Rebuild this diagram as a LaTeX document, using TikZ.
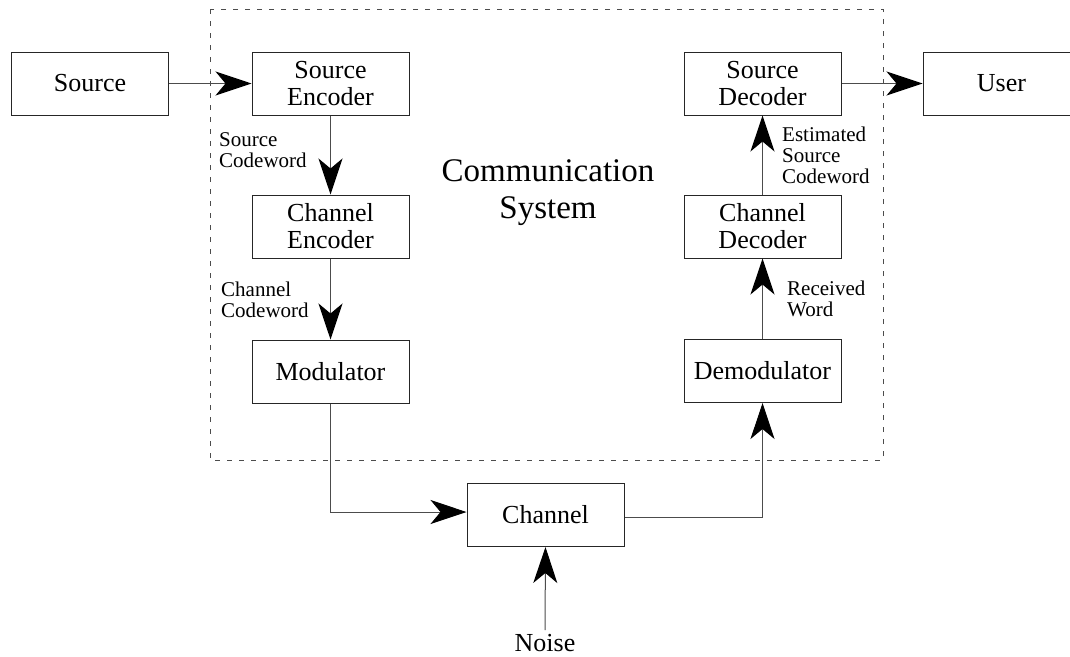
\documentclass[tikz,border=0pt]{standalone}
\usepackage{fontspec}
\setmainfont{Liberation Serif}
\usetikzlibrary{arrows.meta}
\begin{document}
\begin{tikzpicture}[x=1pt,y=-1pt,
  blk/.style={draw=black!85,line width=1pt,minimum width=157pt,minimum height=63pt,align=center,inner sep=0pt,font=\fontsize{26}{27}\selectfont},
  lbl/.style={align=left,inner sep=0pt,anchor=west,font=\fontsize{21}{21}\selectfont},
  conn/.style={draw=black!70,line width=1pt},
  arr/.style={conn,-{Stealth[length=36pt,width=24pt,inset=10pt,color=black]}},
  sysbox/.style={draw=black!70,line width=0.9pt,dash pattern=on 5pt off 7pt}]
\useasboundingbox (0,0) rectangle (1070,656);
\draw[sysbox] (210,9) rectangle (883,460);
\node[blk] (src) at (90,83.5) {Source};
\node[blk] (senc) at (330.5,83.5) {Source\\Encoder};
\node[blk] (cenc) at (330.5,226.5) {Channel\\Encoder};
\node[blk] (mod) at (330.5,371.5) {Modulator};
\node[blk] (sdec) at (762.5,83.5) {Source\\Decoder};
\node[blk] (cdec) at (762.5,226.5) {Channel\\Decoder};
\node[blk] (demod) at (762.5,371) {Demodulator};
\node[blk] (user) at (1001.5,83.5) {User};
\node[blk] (chan) at (545.5,515) {Channel};
\node[inner sep=0pt,font=\fontsize{26}{27}\selectfont] (noise) at (545,643) {Noise};
\node[align=center,inner sep=0pt,font=\fontsize{33}{37}\selectfont] (sys) at (548,193) {Communication\\System};
\node[lbl] (l1) at (219,150) {Source\\Codeword};
\node[lbl] (l2) at (221,300) {Channel\\Codeword};
\node[lbl] (l3) at (782,155) {Estimated\\Source\\Codeword};
\node[lbl] (l4) at (787,299) {Received\\Word};
\draw[arr] (src) -- (senc);
\draw[arr] (senc) -- (cenc);
\draw[arr] (cenc) -- (mod);
\draw[arr] (mod.south) |- ([yshift=3pt]chan.west);
\draw[arr] ([yshift=-2pt]chan.east) -| (demod.south);
\draw[arr] (demod) -- (cdec);
\draw[arr] (cdec) -- (sdec);
\draw[arr] (sdec) -- (user);
\draw[arr] ([yshift=4pt]noise.north) -- (chan.south);
\end{tikzpicture}
\end{document}
